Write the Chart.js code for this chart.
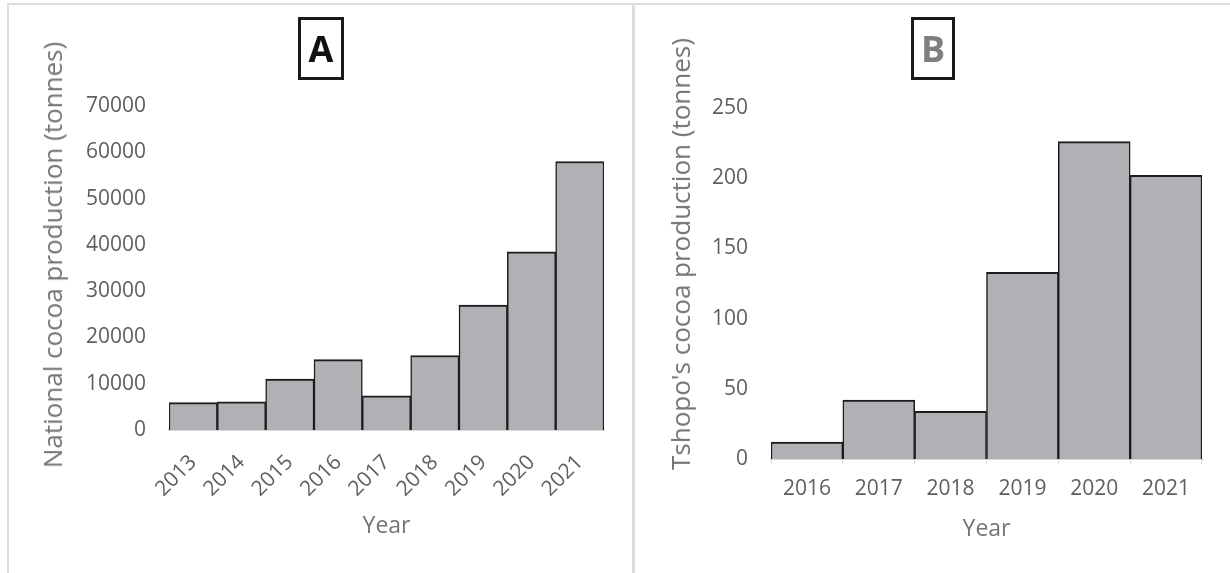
<!DOCTYPE html>
<html>
<head>
<meta charset="utf-8">
<script src="https://cdn.jsdelivr.net/npm/chart.js@4.4.1/dist/chart.umd.min.js"></script>
<style>
  body { margin: 0; background: #fff; overflow: hidden; font-family: "Open Sans", sans-serif; }
  #wrap { position: relative; width: 1230px; height: 573px; }
  .line { position: absolute; background: #dedede; }
  canvas { position: absolute; top: 0; }
  .tag {
    position: absolute; top: 17px; height: 63px; box-sizing: border-box;
    border: 3px solid #1a1a1a; font: bold 36px "Open Sans", sans-serif;
    display: flex; align-items: center; justify-content: center;
  }
  .ytitle {
    position: absolute; white-space: nowrap; color: #757575;
    font: 26px "Open Sans", sans-serif; line-height: 1;
    transform: translate(-50%, -50%) rotate(-90deg);
  }
</style>
</head>
<body>
<div id="wrap">
  <div class="line" style="left:7px;top:3px;width:1223px;height:2px"></div>
  <div class="line" style="left:7px;top:3px;width:2px;height:570px"></div>
  <div class="line" style="left:632px;top:3px;width:3px;height:570px"></div>
  <canvas id="chartA" width="632" height="573" style="left:0"></canvas>
  <canvas id="chartB" width="595" height="573" style="left:635px"></canvas>
  <div class="tag" style="left:298px;width:46px;color:#111">A</div>
  <div class="tag" style="left:911px;width:44px;color:#7f7f7f">B</div>
  <div class="ytitle" style="left:52px;top:255px">National cocoa production (tonnes)</div>
  <div class="ytitle" style="left:680px;top:254px">Tshopo's cocoa production (tonnes)</div>
</div>
<script>
// * data
const yearsA = ["2013", "2014", "2015", "2016", "2017", "2018", "2019", "2020", "2021"];
const nationalTonnes = [5900, 6100, 11000, 15200, 7400, 16100, 27000, 38500, 58000];

const yearsB = ["2016", "2017", "2018", "2019", "2020", "2021"];
const tshopoTonnes = [12, 42, 34, 133, 226, 202];

const tickColor = "#5f5f5f";
const titleColor = "#757575";
const barFill = "#b0b1b5";
const barEdge = "#1c1c1c";

// * one bar chart per panel, bars touching like a histogram
function makeChart(id, labels, values, opts) {
  return new Chart(id, {
    type: "bar",
    data: {
      labels: labels,
      datasets: [
        {
          data: values,
          backgroundColor: barFill,
          borderColor: barEdge,
          borderWidth: { top: 2, left: 1.5, right: 1.5, bottom: 0 },
          borderSkipped: "start",
          categoryPercentage: 1,
          barPercentage: 1,
        },
      ],
    },
    options: {
      responsive: false,
      animation: false,
      devicePixelRatio: 1,
      layout: { padding: opts.padding },
      plugins: { legend: { display: false }, tooltip: { enabled: false } },
      scales: {
        x: {
          grid: {
            display: opts.xTicks,
            drawOnChartArea: false,
            drawTicks: opts.xTicks,
            tickLength: 5,
            color: "#d9d9d9",
          },
          border: { display: true, color: "#d9d9d9", width: 2 },
          ticks: {
            color: tickColor,
            font: { family: "Open Sans", size: 21 },
            maxRotation: opts.rotation,
            minRotation: opts.rotation,
            padding: opts.xPad,
            autoSkip: false,
          },
          title: {
            display: true,
            text: "Year",
            color: titleColor,
            font: { family: "Open Sans", size: 23 },
            padding: { top: 0, bottom: opts.yearPad },
          },
          afterFit: (s) => { s.height = opts.xHeight; },
        },
        y: {
          min: 0,
          max: opts.max,
          grid: { display: false, drawTicks: false },
          border: { display: false },
          ticks: {
            stepSize: opts.step,
            color: tickColor,
            font: { family: "Open Sans", size: 21 },
            padding: 23,
            callback: (v) => String(v),
          },
          afterFit: (s) => { s.width = opts.yWidth; },
        },
      },
    },
  });
}

makeChart("chartA", yearsA, nationalTonnes, {
  padding: { left: 0, right: 28, top: 106, bottom: 23 },
  max: 70000,
  step: 10000,
  yWidth: 169,
  xHeight: 120,
  xPad: 20,
  yearPad: 10,
  rotation: 45,
  xTicks: false,
});

makeChart("chartB", yearsB, tshopoTonnes, {
  padding: { left: 0, right: 28, top: 108, bottom: 14 },
  max: 250,
  step: 50,
  yWidth: 136,
  xHeight: 100,
  xPad: 12,
  yearPad: 16,
  rotation: 0,
  xTicks: true,
});
</script>
</body>
</html>
